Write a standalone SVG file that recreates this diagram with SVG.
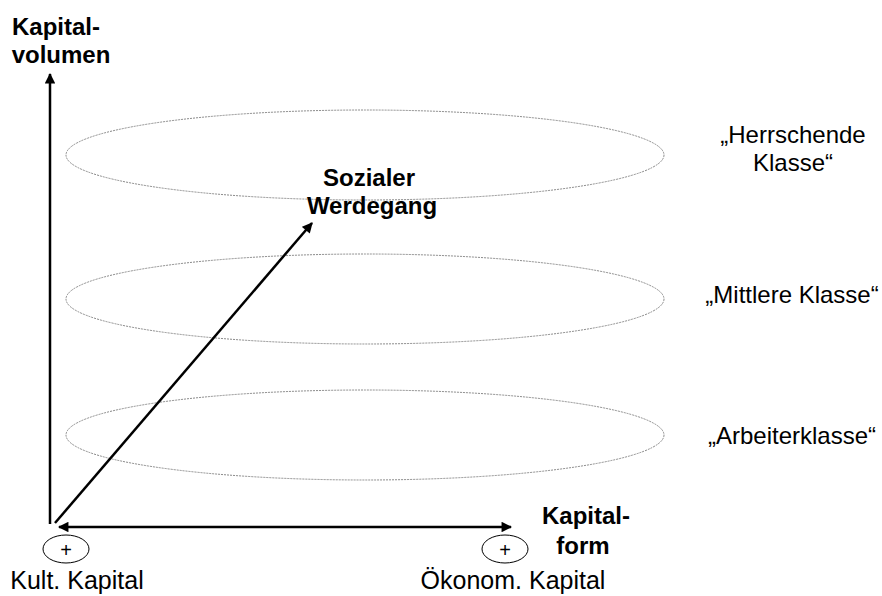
<svg xmlns="http://www.w3.org/2000/svg" width="882" height="596" viewBox="0 0 882 596">
<defs>
<marker id="ah" viewBox="0 0 10 10" refX="9" refY="5" markerWidth="4.8" markerHeight="4.2" orient="auto-start-reverse" markerUnits="strokeWidth">
<path d="M0,0 L10,5 L0,10 Z" fill="#000"/>
</marker>
<style>
.lvl{fill:none;stroke:#8a8a8a;stroke-width:1;stroke-dasharray:2 1}
.ax{stroke:#000;stroke-width:2.5;fill:none}
.b{font-family:"Liberation Sans",Arial,sans-serif;font-weight:bold;font-size:24px;fill:#000;text-anchor:middle}
.r{font-family:"Liberation Sans",Arial,sans-serif;font-size:24px;fill:#000;text-anchor:middle}
.bt{font-size:25px}
.pc{fill:none;stroke:#000;stroke-width:1}
</style>
</defs>
<rect width="882" height="596" fill="#fff"/>
<g id="levels">
<g id="herrschende"><ellipse class="lvl" cx="365" cy="155" rx="299" ry="45"/><text class="r" x="793" y="143">„Herrschende</text><text class="r" x="793" y="171">Klasse“</text></g>
<g id="mittlere"><ellipse class="lvl" cx="365" cy="299" rx="299" ry="45"/><text class="r" x="792" y="303">„Mittlere Klasse“</text></g>
<g id="arbeiter"><ellipse class="lvl" cx="365" cy="435" rx="299" ry="45"/><text class="r" x="792" y="444">„Arbeiterklasse“</text></g>
</g>
<g id="connectors">
<line class="ax" x1="50" y1="524" x2="50" y2="74" marker-end="url(#ah)"/>
<line class="ax" x1="59" y1="527" x2="511" y2="527" marker-start="url(#ah)" marker-end="url(#ah)"/>
<line class="ax" x1="55" y1="523" x2="312" y2="223" marker-end="url(#ah)"/>
</g>
<g id="y-label"><text class="b" x="56" y="35">Kapital-</text><text class="b" x="61" y="63">volumen</text></g>
<g id="x-label"><text class="b" x="586" y="524">Kapital-</text><text class="b" x="583" y="554">form</text></g>
<g id="werdegang"><text class="b" x="369" y="186">Sozialer</text><text class="b" x="372" y="214">Werdegang</text></g>
<g id="kult"><ellipse class="pc" cx="66" cy="549" rx="23" ry="14"/><text class="r" x="66" y="557" style="font-size:20px">+</text><text class="r bt" x="77" y="589">Kult. Kapital</text></g>
<g id="oekonom"><ellipse class="pc" cx="505" cy="549" rx="23" ry="14"/><text class="r" x="505" y="557" style="font-size:20px">+</text><text class="r bt" x="513" y="589">Ökonom. Kapital</text></g>
</svg>
